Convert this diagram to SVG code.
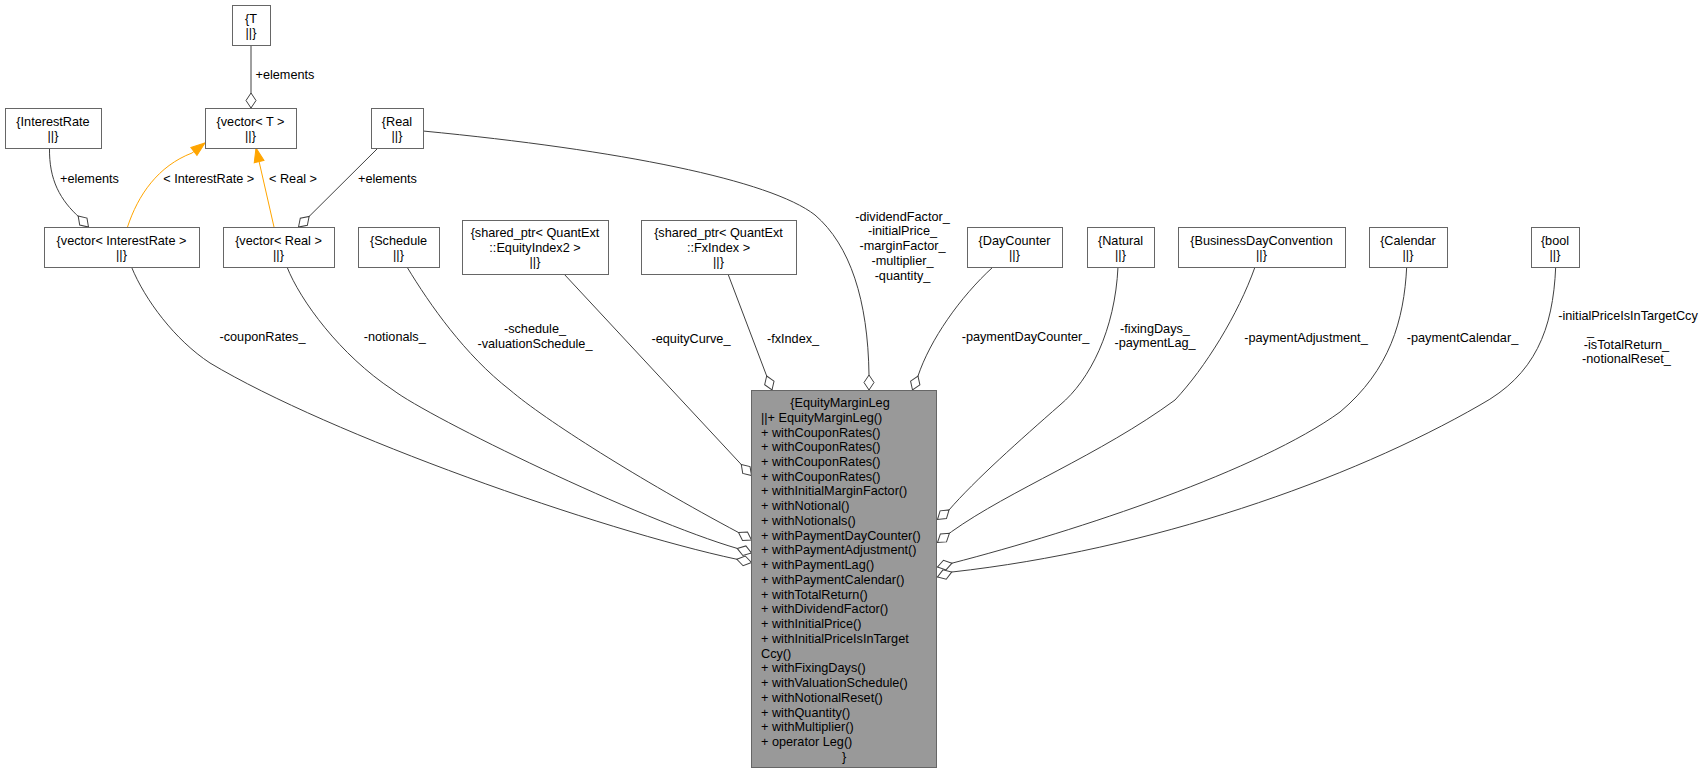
<svg xmlns="http://www.w3.org/2000/svg" width="1707" height="773" viewBox="0 0 1707 773">
<style>
text { font-family: "Liberation Sans", Arial, sans-serif; font-size: 12.7px; fill: #000; }
.c { text-anchor: middle; }
.box { fill: #fff; stroke: #666; stroke-width: 1; }
.main { fill: #999; stroke: #666; stroke-width: 1; }
.edge { fill: none; stroke: #404040; stroke-width: 1; marker-end: url(#odiamond); }
.inh { fill: none; stroke: #FFA500; stroke-width: 1; marker-end: url(#tri); }
</style>
<defs>
<marker id="odiamond" markerUnits="userSpaceOnUse" markerWidth="20" markerHeight="14" refX="15" refY="5" orient="auto" overflow="visible">
<path d="M0,5 L7.5,0 L15,5 L7.5,10 Z" fill="#fff" stroke="#404040" stroke-width="1"/>
</marker>
<marker id="tri" markerUnits="userSpaceOnUse" markerWidth="16" markerHeight="12" refX="14" refY="5" orient="auto" overflow="visible">
<path d="M0,0 L14,5 L0,10 Z" fill="#FFA500" stroke="#FFA500" stroke-width="1"/>
</marker>
</defs>

<g id="connectors">
<path class="edge" d="M251,45 L251,108"/>
<path class="edge" d="M49.5,148 C49,180 60,200 80,218 L88.5,227"/>
<path class="inh" d="M127.5,227 C138,195 158,166 192,153 L205,143"/>
<path class="inh" d="M274,227 L256,148"/>
<path class="edge" d="M378,148 L298.5,227"/>
<path class="edge" d="M423,131 C620,150 770,180 815,215 C850,245 868,300 869,375 L869,390"/>
<path class="edge" d="M407,267 C430,305 465,355 510,390 C545,420 640,480 738.5,532.5 L751.5,540"/>
<path class="edge" d="M287,267 C300,300 340,355 393,390 C430,418 640,520 737.5,548.5 L751.5,553"/>
<path class="edge" d="M131.5,267 C145,300 175,340 210,363 C330,435 600,530 737,559.3 L751.5,562.5"/>
<path class="edge" d="M564,274 L751.5,475.5"/>
<path class="edge" d="M728,274 L772,390"/>
<path class="edge" d="M993,267 C960,297 930,340 918,376 L912.5,390"/>
<path class="edge" d="M1118,267 C1115,330 1090,380 1060,405 C1020,440 975,480 949,510 L937.5,519.5"/>
<path class="edge" d="M1255,267 C1238,315 1205,368 1175,400 C1100,455 1010,490 951.5,531.7 L937.5,542.5"/>
<path class="edge" d="M1406.7,267 C1404,320 1390,370 1340,412 C1260,470 1080,530 951.5,563.3 L937.5,567"/>
<path class="edge" d="M1555.7,267 C1553,330 1535,375 1480,405 C1350,480 1150,550 952,572 L937.5,577"/>

<text x="255.5" y="79">+elements</text>
<text x="60" y="183">+elements</text>
<text x="163.3" y="183">&lt; InterestRate &gt;</text>
<text x="269" y="183">&lt; Real &gt;</text>
<text x="358" y="183">+elements</text>
<text class="c" x="902.5" y="220.5">-dividendFactor_</text>
<text class="c" x="902.5" y="235.3">-initialPrice_</text>
<text class="c" x="902.5" y="250.1">-marginFactor_</text>
<text class="c" x="902.5" y="264.9">-multiplier_</text>
<text class="c" x="902.5" y="279.7">-quantity_</text>
<text class="c" x="262.5" y="341">-couponRates_</text>
<text class="c" x="394.7" y="341">-notionals_</text>
<text class="c" x="535" y="333">-schedule_</text>
<text class="c" x="535" y="347.5">-valuationSchedule_</text>
<text class="c" x="691" y="343">-equityCurve_</text>
<text class="c" x="793" y="343">-fxIndex_</text>
<text class="c" x="1025.5" y="341">-paymentDayCounter_</text>
<text class="c" x="1155" y="332.5">-fixingDays_</text>
<text class="c" x="1155" y="347">-paymentLag_</text>
<text class="c" x="1306" y="341.5">-paymentAdjustment_</text>
<text class="c" x="1462.5" y="341.5">-paymentCalendar_</text>
<text class="c" x="1628" y="320">-initialPriceIsInTargetCcy</text>
<text class="c" x="1590.5" y="334.5">_</text>
<text class="c" x="1626.5" y="348.5">-isTotalReturn_</text>
<text class="c" x="1626.5" y="363">-notionalReset_</text>
</g>

<g id="node-T">
<rect class="box" x="232.5" y="5.5" width="38" height="40"/>
<text class="c" x="251" y="22.7">{T</text>
<text class="c" x="251" y="37.4">||}</text>
</g>
<g id="node-vectorT">
<rect class="box" x="205.5" y="108.5" width="91" height="40"/>
<text class="c" x="250.5" y="125.7">{vector&lt; T &gt;</text>
<text class="c" x="250.5" y="140.4">||}</text>
</g>
<g id="node-InterestRate">
<rect class="box" x="5.5" y="108.5" width="96" height="40"/>
<text class="c" x="53" y="125.7">{InterestRate</text>
<text class="c" x="53" y="140.4">||}</text>
</g>
<g id="node-Real">
<rect class="box" x="371.5" y="108.5" width="52" height="40"/>
<text class="c" x="397" y="125.7">{Real</text>
<text class="c" x="397" y="140.4">||}</text>
</g>
<g id="node-vectorInterestRate">
<rect class="box" x="44.5" y="227.5" width="155" height="40"/>
<text class="c" x="121.5" y="244.7">{vector&lt; InterestRate &gt;</text>
<text class="c" x="121.5" y="259.4">||}</text>
</g>
<g id="node-vectorReal">
<rect class="box" x="223.5" y="227.5" width="111" height="40"/>
<text class="c" x="278.5" y="244.7">{vector&lt; Real &gt;</text>
<text class="c" x="278.5" y="259.4">||}</text>
</g>
<g id="node-Schedule">
<rect class="box" x="358.5" y="227.5" width="81" height="40"/>
<text class="c" x="398.5" y="244.7">{Schedule</text>
<text class="c" x="398.5" y="259.4">||}</text>
</g>
<g id="node-EquityIndex2">
<rect class="box" x="462.5" y="220.5" width="146" height="54"/>
<text class="c" x="535" y="237">{shared_ptr&lt; QuantExt</text>
<text class="c" x="535" y="251.7">::EquityIndex2 &gt;</text>
<text class="c" x="535" y="266.4">||}</text>
</g>
<g id="node-FxIndex">
<rect class="box" x="641.5" y="220.5" width="155" height="54"/>
<text class="c" x="718.5" y="237">{shared_ptr&lt; QuantExt</text>
<text class="c" x="718.5" y="251.7">::FxIndex &gt;</text>
<text class="c" x="718.5" y="266.4">||}</text>
</g>
<g id="node-DayCounter">
<rect class="box" x="967.5" y="227.5" width="95" height="40"/>
<text class="c" x="1014.5" y="244.7">{DayCounter</text>
<text class="c" x="1014.5" y="259.4">||}</text>
</g>
<g id="node-Natural">
<rect class="box" x="1087.5" y="227.5" width="67" height="40"/>
<text class="c" x="1120.5" y="244.7">{Natural</text>
<text class="c" x="1120.5" y="259.4">||}</text>
</g>
<g id="node-BusinessDayConvention">
<rect class="box" x="1178.5" y="227.5" width="167" height="40"/>
<text class="c" x="1261.5" y="244.7">{BusinessDayConvention</text>
<text class="c" x="1261.5" y="259.4">||}</text>
</g>
<g id="node-Calendar">
<rect class="box" x="1369.5" y="227.5" width="78" height="40"/>
<text class="c" x="1408" y="244.7">{Calendar</text>
<text class="c" x="1408" y="259.4">||}</text>
</g>
<g id="node-bool">
<rect class="box" x="1531.5" y="227.5" width="48" height="40"/>
<text class="c" x="1555" y="244.7">{bool</text>
<text class="c" x="1555" y="259.4">||}</text>
</g>
<g id="node-EquityMarginLeg">
<rect class="main" x="751.5" y="390.5" width="185" height="377"/>
<text class="c" x="840" y="407">{EquityMarginLeg</text>
<text x="761" y="421.7">||+ EquityMarginLeg()</text>
<text x="761" y="436.5">+ withCouponRates()</text>
<text x="761" y="451.2">+ withCouponRates()</text>
<text x="761" y="466">+ withCouponRates()</text>
<text x="761" y="480.7">+ withCouponRates()</text>
<text x="761" y="495.4">+ withInitialMarginFactor()</text>
<text x="761" y="510.2">+ withNotional()</text>
<text x="761" y="524.9">+ withNotionals()</text>
<text x="761" y="539.7">+ withPaymentDayCounter()</text>
<text x="761" y="554.4">+ withPaymentAdjustment()</text>
<text x="761" y="569.1">+ withPaymentLag()</text>
<text x="761" y="583.9">+ withPaymentCalendar()</text>
<text x="761" y="598.6">+ withTotalReturn()</text>
<text x="761" y="613.4">+ withDividendFactor()</text>
<text x="761" y="628.1">+ withInitialPrice()</text>
<text x="761" y="642.8">+ withInitialPriceIsInTarget</text>
<text x="761" y="657.6">Ccy()</text>
<text x="761" y="672.3">+ withFixingDays()</text>
<text x="761" y="687.1">+ withValuationSchedule()</text>
<text x="761" y="701.8">+ withNotionalReset()</text>
<text x="761" y="716.5">+ withQuantity()</text>
<text x="761" y="731.3">+ withMultiplier()</text>
<text x="761" y="746">+ operator Leg()</text>
<text class="c" x="844" y="760.8">}</text>
</g>
</svg>
